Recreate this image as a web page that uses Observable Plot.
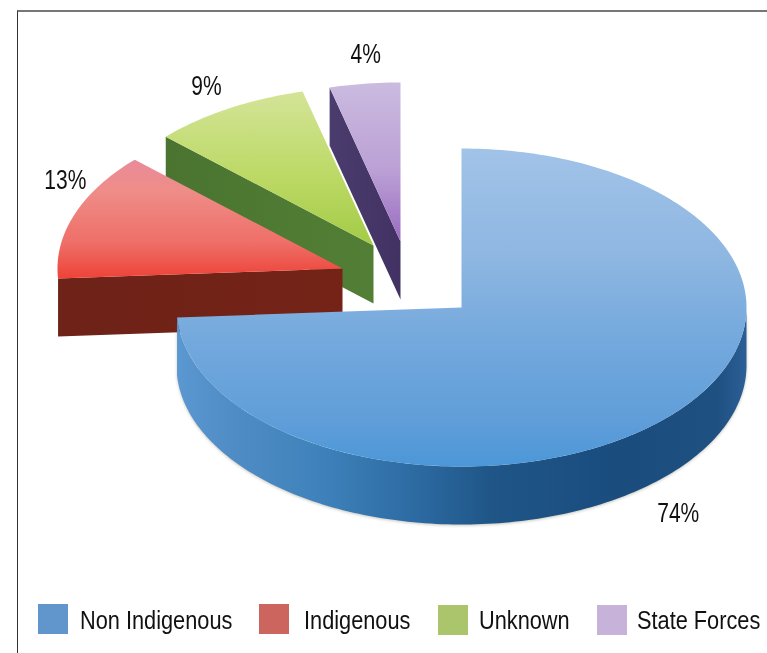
<!DOCTYPE html>
<html>
<head>
<meta charset="utf-8">
<script src="https://cdn.jsdelivr.net/npm/d3@7"></script>
<script src="https://cdn.jsdelivr.net/npm/@observablehq/plot@0.6"></script>
<style>
  html, body { margin: 0; padding: 0; background: #fff; overflow: hidden; }
  #page { position: relative; width: 767px; height: 653px; }
  #frame { position: absolute; left: 17px; top: 10px; right: 0; bottom: 0; border-top: 2px solid #777; border-left: 1.5px solid #333; }
  #chart { position: absolute; left: 0; top: 0; }
  #legend { position: absolute; left: 0; top: 590px; width: 767px; height: 63px; font-family: "Liberation Sans", Arial, sans-serif; font-size: 25px; color: #111; }
  #legend .sw { position: absolute; width: 30px; height: 30px; }
  #legend .lb { position: absolute; top: 14px; line-height: 32px; white-space: nowrap; transform: scaleX(0.87); transform-origin: left center; }
  .face { filter: blur(0.6px); }
  .wall { filter: blur(0.6px) drop-shadow(0 1px 1.5px rgba(90,90,70,.35)); }
  .pct { filter: blur(0.2px); }
</style>
</head>
<body>
<div id="page">
  <div id="frame"></div>
  <div id="chart"></div>
  <div id="legend"></div>
</div>
<script>
// --- values ---
const categories = ["Non Indigenous", "Indigenous", "Unknown", "State Forces"];
const shares = [74, 13, 9, 4];
const shareLabels = ["74%", "13%", "9%", "4%"];

// --- layout and styling, separate from the values ---
const W = 767, H = 590;
const radiusX = 285, radiusY = 159, depth = 58;
const centreX = [461, 342, 373, 400];
const centreY = [307, 268, 245, 241];
const labelShiftX = [9, -9, -22, 1];
const labelShiftY = [39, -35, -23, -30];
const labelCondense = 0.75;
const swatchColors = ["#6096cb", "#cd655f", "#abc56c", "#c7b3da"];
const swatchLeft = [38, 259, 438, 597];
const swatchTop = [14, 14, 15, 15];
const textLeft = [80, 304, 479, 637];
const topStops = [
  [[0, "#a2c3e8"], [0.35, "#8db6e1"], [0.6, "#74a9dd"], [0.85, "#609ed9"], [1, "#4c97d8"]],
  [[0, "#e98a9a"], [0.25, "#ef8d88"], [0.7, "#ee6f68"], [1, "#ee4238"]],
  [[0, "#d4e498"], [0.55, "#bcd965"], [1, "#a3cb46"]],
  [[0, "#cbbbe0"], [0.55, "#bba0d5"], [1, "#9a6cc0"]]
];
const wallStops = [
  [[0, "#5b97d0"], [0.1, "#4f8cc5"], [0.25, "#3f82bb"], [0.42, "#2c6aa2"], [0.55, "#1f5687"], [0.78, "#1a4c7e"], [0.95, "#1f5082"], [1, "#2c5f96"]],
  [[0, "#6e2218"], [1, "#752317"]],
  [[0, "#4a7430"], [1, "#527f35"]],
  [[0, "#4a3c6c"], [1, "#413263"]]
];

// --- geometry derived from the shares ---
const arcs = d3.pie().sort(null).value(d => d)(shares);
const onRim = (i, a, drop = 0) => ({
  x: centreX[i] + radiusX * Math.sin(a),
  y: centreY[i] - radiusY * Math.cos(a) + drop
});
const sweep = (i, a0, a1, drop = 0) => {
  const n = Math.max(2, Math.ceil((a1 - a0) / 0.02));
  return d3.range(n + 1).map(k => onRim(i, a0 + (a1 - a0) * k / n, drop));
};
const topFace = i => [{x: centreX[i], y: centreY[i]}, ...sweep(i, arcs[i].startAngle, arcs[i].endAngle)];
const radialWall = i => {
  const p = onRim(i, arcs[i].startAngle), c = {x: centreX[i], y: centreY[i]};
  return [p, c, {x: c.x, y: c.y + depth}, {x: p.x, y: p.y + depth}];
};
const rimWall = i => {
  const a0 = Math.max(arcs[i].startAngle, Math.PI / 2), a1 = Math.min(arcs[i].endAngle, 3 * Math.PI / 2);
  if (a1 <= a0) return [];
  return [...sweep(i, a0, a1), ...sweep(i, a0, a1, depth).reverse()];
};
const labelData = shares.map((_, i) => {
  const a = (arcs[i].startAngle + arcs[i].endAngle) / 2, p = onRim(i, a, i === 0 ? depth : 0);
  return {text: shareLabels[i], x: p.x + labelShiftX[i], y: p.y + labelShiftY[i]};
});

function gradients() {
  const ns = "http://www.w3.org/2000/svg";
  const defs = document.createElementNS(ns, "defs");
  const add = (id, stops, attrs) => {
    const g = document.createElementNS(ns, "linearGradient");
    g.setAttribute("id", id);
    g.setAttribute("gradientUnits", "objectBoundingBox");
    for (const [k, v] of Object.entries(attrs)) g.setAttribute(k, v);
    for (const [o, c] of stops) {
      const s = document.createElementNS(ns, "stop");
      s.setAttribute("offset", o);
      s.setAttribute("stop-color", c);
      g.appendChild(s);
    }
    defs.appendChild(g);
  };
  shares.forEach((_, i) => {
    add("top" + i, topStops[i], {x1: 0, y1: 0, x2: 0, y2: 1});
    add("wall" + i, wallStops[i], {x1: 0, y1: 0, x2: 1, y2: 0});
  });
  return defs;
}

const polygon = (pts, fill, className) => Plot.line(pts, {
  x: "x", y: "y", fill, stroke: "none", curve: "linear-closed", className
});

// painted back to front: State Forces, Unknown, Indigenous, Non Indigenous
const sliceMarks = [3, 2, 1, 0].flatMap(i => {
  const marks = [];
  if (arcs[i].startAngle > Math.PI) marks.push(polygon(radialWall(i), `url(#wall${i})`, "face"));
  if (i === 0) marks.push(polygon(rimWall(i), `url(#wall${i})`, "wall"));
  marks.push(polygon(topFace(i), `url(#top${i})`, "face"));
  return marks;
});

const plot = Plot.plot({
  width: W,
  height: H,
  margin: 0,
  x: {domain: [0, W], range: [0, W], axis: null},
  y: {domain: [0, H], range: [0, H], axis: null},
  style: {background: "transparent", overflow: "visible"},
  marks: [
    gradients,
    ...sliceMarks,
    Plot.text(labelData, {
      x: "x", y: "y", text: "text", className: "pct",
      fontFamily: "'Liberation Sans', Arial, sans-serif",
      fontSize: 28, fill: "#111", textAnchor: "middle"
    })
  ]
});
document.getElementById("chart").appendChild(plot);

// the reference's percent labels are condensed horizontally
plot.querySelectorAll(".pct text").forEach(t => {
  t.setAttribute("textLength", t.getComputedTextLength() * labelCondense);
  t.setAttribute("lengthAdjust", "spacingAndGlyphs");
});

const legend = document.getElementById("legend");
categories.forEach((c, i) => {
  const sw = document.createElement("div");
  sw.className = "sw";
  sw.style.left = swatchLeft[i] + "px";
  sw.style.top = swatchTop[i] + "px";
  sw.style.background = swatchColors[i];
  legend.appendChild(sw);
  const lb = document.createElement("div");
  lb.className = "lb";
  lb.style.left = textLeft[i] + "px";
  lb.textContent = c;
  legend.appendChild(lb);
});
</script>
</body>
</html>
